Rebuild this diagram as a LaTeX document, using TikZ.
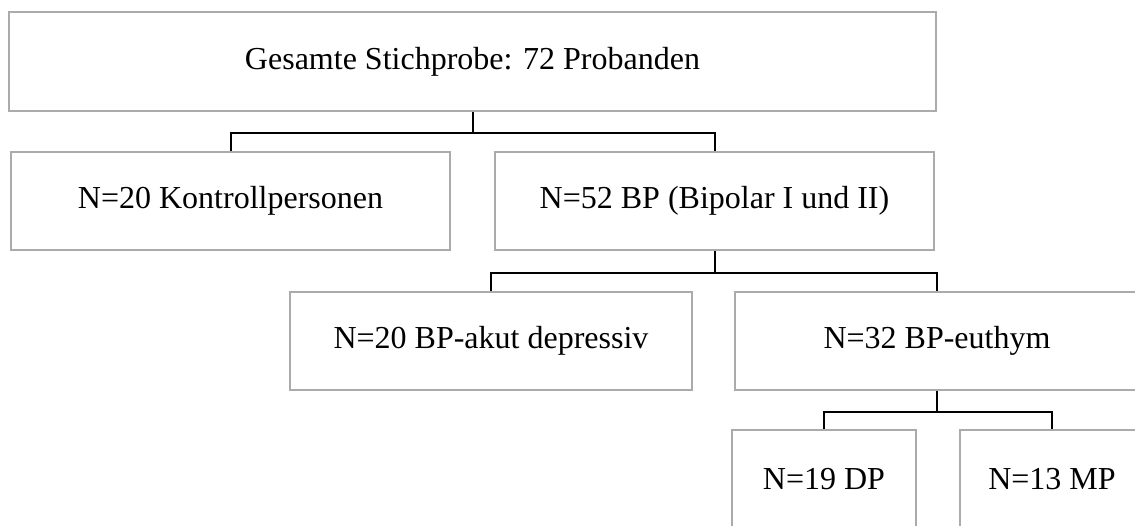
\documentclass[tikz,border=0pt]{standalone}
\usepackage{fontspec}
\setmainfont{Liberation Serif}
\begin{document}
\begin{tikzpicture}[x=1pt,y=-1pt,
  box/.style={draw=black!33, line width=1.8pt, fill=white, inner sep=0pt,
    minimum height=98pt, font=\fontsize{32}{38}\selectfont},
  conn/.style={draw=black, line width=2pt}]
\fill[white] (0,0) rectangle (1135,526);
\useasboundingbox (0,0) rectangle (1135,526);
\begin{scope}
\clip (0,0) rectangle (1135,526);
\node[box, minimum width=927pt, minimum height=99pt] (top) at (472.5,61.5) {Gesamte Stichprobe: 72 Probanden};
\node[box, minimum width=439pt] (kontroll) at (230.5,201) {N=20 Kontrollpersonen};
\node[box, minimum width=439pt] (bp) at (714.5,201) {N=52 BP (Bipolar I und II)};
\node[box, minimum width=402pt] (akut) at (491,341) {N=20 BP-akut depressiv};
\node[box, minimum width=404pt] (euthym) at (937,341) {N=32 BP-euthym};
\node[box, minimum width=184pt] (dp) at (824,479) {N=19 DP};
\node[box, minimum width=184pt] (mp) at (1052,479) {N=13 MP};
\path (top.south) ++(0,21) coordinate (j1);
\path (bp.south) ++(0,22) coordinate (j2);
\path (euthym.south) ++(0,21) coordinate (j3);
\draw[conn] (top.south) -- (j1);
\draw[conn] (kontroll.north) |- (j1) -| (bp.north);
\draw[conn] (bp.south) -- (j2);
\draw[conn] (akut.north) |- (j2) -| (euthym.north);
\draw[conn] (euthym.south) -- (j3);
\draw[conn] (dp.north) |- (j3) -| (mp.north);
\end{scope}
\end{tikzpicture}
\end{document}
